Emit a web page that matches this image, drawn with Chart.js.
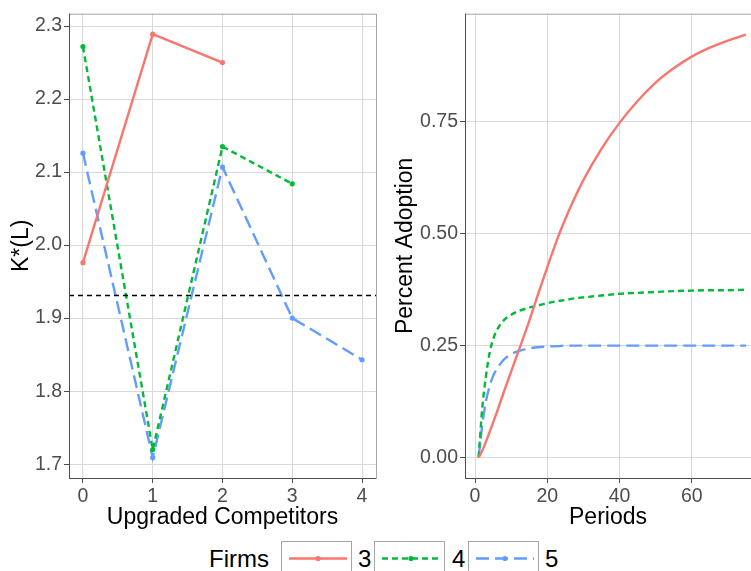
<!DOCTYPE html>
<html>
<head>
<meta charset="utf-8">
<script src="https://cdn.jsdelivr.net/npm/chart.js@4.4.1/dist/chart.umd.min.js"></script>
<style>
html,body{margin:0;padding:0;background:#fff;overflow:hidden;}
body{width:751px;height:571px;position:relative;font-family:"Liberation Sans",Arial,sans-serif;}
#left{position:absolute;left:0;top:0;}
#right{position:absolute;left:380px;top:0;}
.lg-title,.lg-lab{position:absolute;top:547px;font-size:24px;line-height:24px;color:#000;}
.lg-box{position:absolute;top:541px;width:71px;height:40px;border:1px solid #a6a6a6;box-sizing:border-box;}
.lg-box svg{position:absolute;left:0;top:0;}
</style>
</head>
<body>
<canvas id="left" width="380" height="535"></canvas>
<canvas id="right" width="371" height="535"></canvas>

<div class="lg-title" style="left:209px">Firms</div>
<div class="lg-box" style="left:281px"><svg width="71" height="40"><line x1="7" y1="16.5" x2="65" y2="16.5" stroke="#F8766D" stroke-width="2.4"/><circle cx="36" cy="16.5" r="2.6" fill="#F8766D"/></svg></div>
<div class="lg-lab" style="left:358px">3</div>
<div class="lg-box" style="left:374px"><svg width="71" height="40"><line x1="7" y1="16.5" x2="65" y2="16.5" stroke="#00BA38" stroke-width="2.4" stroke-dasharray="6 4"/><circle cx="36" cy="16.5" r="2.6" fill="#00BA38"/></svg></div>
<div class="lg-lab" style="left:452px">4</div>
<div class="lg-box" style="left:468px"><svg width="71" height="40"><line x1="7" y1="16.5" x2="65" y2="16.5" stroke="#619CFF" stroke-width="2.4" stroke-dasharray="13 6"/><circle cx="36" cy="16.5" r="2.6" fill="#619CFF"/></svg></div>
<div class="lg-lab" style="left:545px">5</div>

<script>
// left panel: K*(L) by number of upgraded competitors
const competitors = [0, 1, 2, 3, 4];
const kFirms3 = [1.976, 2.289, 2.250];
const kFirms4 = [2.272, 1.720, 2.135, 2.084];
const kFirms5 = [2.126, 1.709, 2.107, 1.900, 1.843];
const refLine = 1.931;
const leftXTicks = [0, 1, 2, 3, 4];
const leftYTicks = [1.7, 1.8, 1.9, 2.0, 2.1, 2.2, 2.3];

// right panel: adoption over periods
const periods = [1, 2, 3, 4, 5, 6, 8, 10, 12, 15, 18, 20, 23, 25, 27, 30, 35, 40, 45, 50, 55, 60, 65, 70, 75];
const adopt3 = [0, 0.015, 0.035, 0.056, 0.078, 0.100, 0.147, 0.192, 0.237, 0.305, 0.378, 0.425, 0.493, 0.533, 0.570, 0.620, 0.690, 0.748, 0.797, 0.838, 0.870, 0.896, 0.916, 0.932, 0.945];
const adopt4 = [0, 0.110, 0.180, 0.232, 0.264, 0.284, 0.307, 0.319, 0.327, 0.335, 0.341, 0.345, 0.350, 0.352, 0.355, 0.358, 0.362, 0.366, 0.368, 0.370, 0.372, 0.373, 0.374, 0.374, 0.375];
const adopt5 = [0, 0.072, 0.125, 0.158, 0.182, 0.197, 0.219, 0.231, 0.238, 0.244, 0.247, 0.248, 0.249, 0.250, 0.250, 0.250, 0.250, 0.250, 0.250, 0.250, 0.250, 0.250, 0.250, 0.250, 0.250];
const rightXTicks = [0, 20, 40, 60];
const rightYTicks = [0, 0.25, 0.50, 0.75];

const col = { 3: "#F8766D", 4: "#00BA38", 5: "#619CFF" };
const dash = { 3: [], 4: [6, 4], 5: [13, 6] };
const FONT = "'Liberation Sans', Arial, sans-serif";
Chart.defaults.font.family = FONT;
Chart.defaults.devicePixelRatio = 1;

const pts = (xs, ys) => ys.map((y, i) => ({ x: xs[i], y }));

const frame = {
  id: "frame",
  afterDraw(chart){
    const { ctx, chartArea: a } = chart;
    ctx.save();
    ctx.strokeStyle = "#a6a6a6"; ctx.lineWidth = 1;
    ctx.strokeRect(a.left + 0.5, a.top + 0.5, a.right - a.left, a.bottom - a.top);
    ctx.strokeStyle = "#4d4d4d";
    ctx.beginPath();
    ctx.moveTo(a.left + 0.5, a.top); ctx.lineTo(a.left + 0.5, a.bottom + 0.5);
    ctx.lineTo(a.right, a.bottom + 0.5);
    ctx.stroke();
    ctx.restore();
  }
};

const hline = {
  id: "hline",
  afterDatasetsDraw(chart){
    if(chart.canvas.id !== "left"){ return; }
    const { ctx, chartArea: a } = chart;
    const y = chart.scales.y.getPixelForValue(refLine);
    ctx.save();
    ctx.strokeStyle = "#000"; ctx.lineWidth = 1.3; ctx.setLineDash([5, 4]);
    ctx.beginPath(); ctx.moveTo(a.left, y); ctx.lineTo(a.right, y); ctx.stroke();
    ctx.restore();
  }
};

function axis(opts){
  return {
    type: "linear", min: opts.min, max: opts.max,
    afterBuildTicks(s){ s.ticks = opts.ticks.map(v => ({ value: v })); },
    afterFit(s){ if(opts.w){ s.width = opts.w; } if(opts.h){ s.height = opts.h; } },
    grid: { color: "#d9d9d9", lineWidth: 1, tickLength: 5, tickColor: "#4d4d4d", drawTicks: true },
    border: { display: false },
    ticks: { color: "#4d4d4d", font: { size: 19.5 }, padding: 2, autoSkip: false, maxRotation: 0, callback: opts.fmt },
    title: { display: true, text: opts.title, color: "#000", font: { size: 23 }, padding: opts.tpad }
  };
}

function line(label, data, n, radius, smooth){
  const ds = { label, data, borderColor: col[n], backgroundColor: col[n], borderDash: dash[n], borderWidth: 2.4,
    pointRadius: radius, pointHoverRadius: radius, pointBorderWidth: 0, fill: false, tension: 0 };
  if(smooth){ ds.cubicInterpolationMode = "monotone"; }
  return ds;
}

new Chart(document.getElementById("left"), {
  type: "line",
  data: { datasets: [
    line("3", pts(competitors, kFirms3), 3, 2.6, false),
    line("4", pts(competitors, kFirms4), 4, 2.6, false),
    line("5", pts(competitors, kFirms5), 5, 2.6, false)
  ]},
  options: {
    responsive: false, animation: false, events: [],
    layout: { padding: { top: 10, right: 4, left: 0, bottom: 0 } },
    plugins: { legend: { display: false }, tooltip: { enabled: false } },
    scales: {
      x: axis({ min: -0.2, max: 4.2, ticks: leftXTicks, h: 57, title: "Upgraded Competitors", tpad: { top: 0, bottom: 4 }, fmt: v => String(v) }),
      y: axis({ min: 1.681, max: 2.317, ticks: leftYTicks, w: 69, title: "K*(L)", tpad: { top: 8, bottom: 0 }, fmt: v => v.toFixed(1) })
    }
  },
  plugins: [frame, hline]
});

new Chart(document.getElementById("right"), {
  type: "line",
  data: { datasets: [
    line("3", pts(periods, adopt3), 3, 0, true),
    line("4", pts(periods, adopt4), 4, 0, true),
    line("5", pts(periods, adopt5), 5, 0, true)
  ]},
  options: {
    responsive: false, animation: false, events: [],
    layout: { padding: { top: 10, right: 0, left: 0, bottom: 0 } },
    plugins: { legend: { display: false }, tooltip: { enabled: false } },
    scales: {
      x: axis({ min: -2.77, max: 76.4, ticks: rightXTicks, h: 57, title: "Periods", tpad: { top: 0, bottom: 4 }, fmt: v => String(v) }),
      y: axis({ min: -0.0458, max: 0.992, ticks: rightYTicks, w: 85, title: "Percent Adoption", tpad: { top: 12, bottom: 0 }, fmt: v => v.toFixed(2) })
    }
  },
  plugins: [frame]
});
</script>
</body>
</html>
